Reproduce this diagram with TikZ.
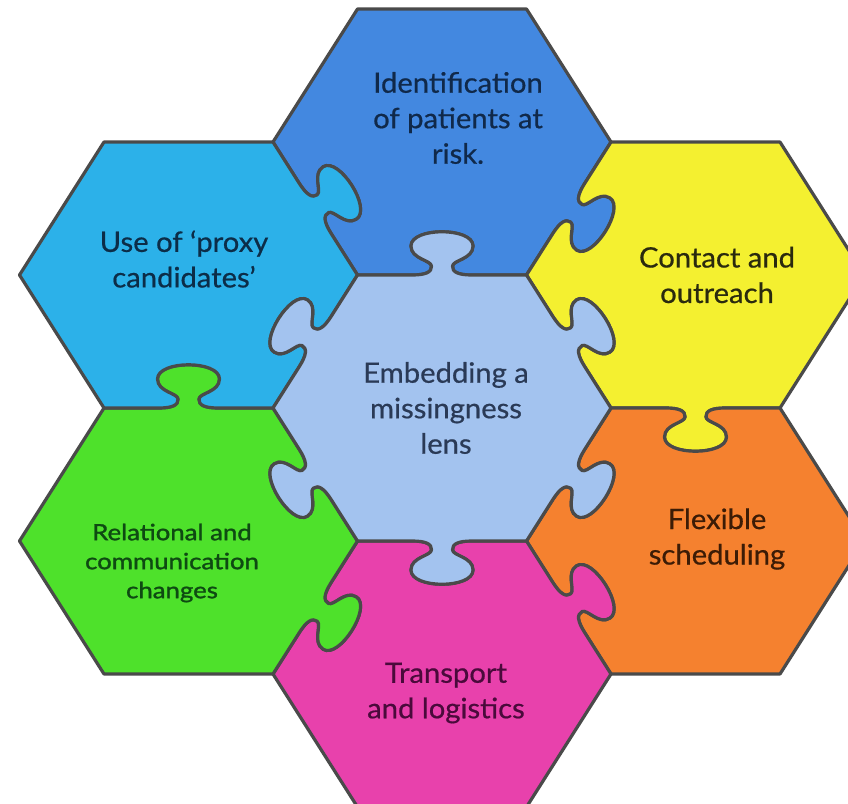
\documentclass[tikz,border=0pt]{standalone}
\usepackage{fontspec}
\setmainfont{Lato}
\newfontfamily\pzmain{Lato}[FakeStretch=1.04, FakeBold=0.6]
\newfontfamily\pzsmallfont{Lato}[FakeStretch=1.15, FakeBold=1.4]
\usetikzlibrary{calc}

\definecolor{pzblue}{HTML}{4388E0}
\definecolor{pzcyan}{HTML}{2CB1E9}
\definecolor{pzlight}{HTML}{A3C3EF}
\definecolor{pzyellow}{HTML}{F4F030}
\definecolor{pzorange}{HTML}{F5812F}
\definecolor{pzpink}{HTML}{E841AC}
\definecolor{pzgreen}{HTML}{4EE12B}
\definecolor{pzedgecol}{HTML}{4A4A4A}
\definecolor{txblue}{HTML}{10294A}
\definecolor{txcyan}{HTML}{0C2D48}
\definecolor{txlight}{HTML}{2A3A56}
\definecolor{txyellow}{HTML}{2A2A0E}
\definecolor{txorange}{HTML}{3C1C06}
\definecolor{txpink}{HTML}{4A0A3B}
\definecolor{txgreen}{HTML}{0E4A12}

% point of a tab: #3 along the edge from its midpoint, #4 off the edge,
% on the side given by the angle #5 (90 = left of travel, -90 = right)
\newcommand\pzpt[5]{($(#1)!.5!(#2)!#3pt!(#2)!#4pt!#5:(#2)$)}
% edge from #1 to #2 carrying a jigsaw tab on side #3
\newcommand\pzedge[3]{%
 -- \pzpt{#1}{#2}{-30}{0}{#3}
 .. controls \pzpt{#1}{#2}{-16}{0}{#3} and \pzpt{#1}{#2}{-10}{3}{#3} .. \pzpt{#1}{#2}{-10.5}{9}{#3}
 .. controls \pzpt{#1}{#2}{-11}{15}{#3} and \pzpt{#1}{#2}{-31}{16}{#3} .. \pzpt{#1}{#2}{-31}{29}{#3}
 .. controls \pzpt{#1}{#2}{-31}{48}{#3} and \pzpt{#1}{#2}{31}{48}{#3} .. \pzpt{#1}{#2}{31}{29}{#3}
 .. controls \pzpt{#1}{#2}{31}{16}{#3} and \pzpt{#1}{#2}{11}{15}{#3} .. \pzpt{#1}{#2}{10.5}{9}{#3}
 .. controls \pzpt{#1}{#2}{10}{3}{#3} and \pzpt{#1}{#2}{16}{0}{#3} .. \pzpt{#1}{#2}{30}{0}{#3}
 -- (#2)}
\newcommand\pzout[2]{\pzedge{#1}{#2}{90}}
\newcommand\pzin[2]{\pzedge{#1}{#2}{-90}}

% corners of a flat-topped hexagon centred at (#2,#3)
\newcommand\hexat[3]{%
 \coordinate (#1) at (#2,#3);
 \coordinate (#1-nw) at ($(#1)+(-84.5,-133)$);
 \coordinate (#1-ne) at ($(#1)+(84.5,-133)$);
 \coordinate (#1-e)  at ($(#1)+(169,0)$);
 \coordinate (#1-se) at ($(#1)+(84.5,133)$);
 \coordinate (#1-sw) at ($(#1)+(-84.5,133)$);
 \coordinate (#1-w)  at ($(#1)+(-169,0)$);}

\tikzset{
 piece/.style={draw=pzedgecol, line width=3.2pt, line join=round},
 ptext/.style={align=center, inner sep=0pt, font=\pzmain\fontsize{28.1}{35.5}\selectfont},
 psmall/.style={align=center, inner sep=0pt, font=\pzsmallfont\fontsize{22.4}{29}\selectfont},
}

\begin{document}
\begin{tikzpicture}[x=1pt,y=-1pt]
\useasboundingbox (0,0) rectangle (848,803);
\fill[white] (0,0) rectangle (848,803);
\clip (0,0) rectangle (848,803);

\hexat{T}{442}{142}
\hexat{C}{442}{408}
\hexat{B}{442}{674}
\hexat{UL}{188.5}{275}
\hexat{LL}{188.5}{541}
\hexat{UR}{695.5}{275}
\hexat{LR}{695.5}{541}

% outer ring
\path[piece, fill=pzblue] (T-nw) -- (T-ne) -- (T-e)
  \pzout{T-e}{T-se} \pzin{T-se}{T-sw} \pzin{T-sw}{T-w} -- cycle;
\path[piece, fill=pzyellow] (UR-nw) -- (UR-ne) -- (UR-e) -- (UR-se)
  \pzout{UR-se}{UR-sw} \pzin{UR-sw}{UR-w} \pzin{UR-w}{UR-nw} -- cycle;
\path[piece, fill=pzorange] (LR-nw) \pzin{LR-nw}{LR-ne} -- (LR-e) -- (LR-se) -- (LR-sw)
  \pzin{LR-sw}{LR-w} \pzin{LR-w}{LR-nw} -- cycle;
\path[piece, fill=pzpink] (B-nw) \pzin{B-nw}{B-ne} \pzout{B-ne}{B-e} -- (B-se) -- (B-sw) -- (B-w)
  \pzin{B-w}{B-nw} -- cycle;
\path[piece, fill=pzgreen] (LL-nw) \pzout{LL-nw}{LL-ne} \pzin{LL-ne}{LL-e} \pzout{LL-e}{LL-se}
  -- (LL-sw) -- (LL-w) -- cycle;
\path[piece, fill=pzcyan] (UL-nw) -- (UL-ne) \pzout{UL-ne}{UL-e} \pzin{UL-e}{UL-se}
  \pzin{UL-se}{UL-sw} -- (UL-w) -- cycle;
% centre piece, tabs on every side
\path[piece, fill=pzlight] (C-nw) \pzout{C-nw}{C-ne} \pzout{C-ne}{C-e} \pzout{C-e}{C-se}
  \pzout{C-se}{C-sw} \pzout{C-sw}{C-w} \pzout{C-w}{C-nw} -- cycle;

% captions
\node[ptext, text=txblue] (cap-T) at (458,118) {Identification\\of patients at\\risk.};
\node[ptext, text=txcyan] (cap-UL) at (184,259) {Use of ‘proxy\\candidates’};
\node[ptext, text=txyellow] (cap-UR) at (717,275) {Contact and\\outreach};
\node[ptext, text=txlight] (cap-C) at (446,408) {Embedding a\\missingness\\lens};
\node[ptext, text=txorange] (cap-LR) at (717,539) {Flexible\\scheduling};
\node[ptext, text=txpink] (cap-B) at (446,693) {Transport\\and logistics};
\node[psmall, text=txgreen] (cap-LL) at (172,563) {Relational and\\communication\\changes};
\end{tikzpicture}
\end{document}
